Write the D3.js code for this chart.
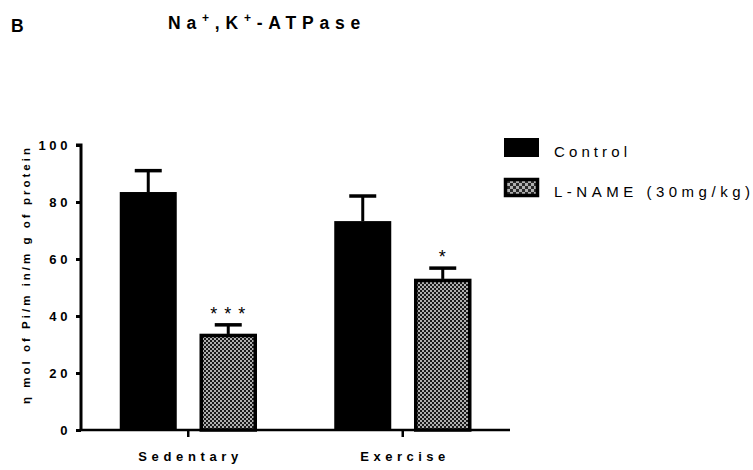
<!DOCTYPE html>
<html>
<head>
<meta charset="utf-8">
<script src="https://cdn.jsdelivr.net/npm/d3@7/dist/d3.min.js"></script>
<style>
  html, body { margin: 0; padding: 0; background: #fff; }
  svg { display: block; font-family: "Liberation Sans", Arial, sans-serif; }
</style>
</head>
<body>
<svg id="chart" width="753" height="470"></svg>
<script>
// ---- data ----
const categories = ["Sedentary", "Exercise"];
const series = ["Control", "L-NAME (30mg/kg)"];
const controlMeans = [83.5, 73.3];
const controlErr = [7.5, 8.8];
const lnameMeans = [33.7, 53.0];
const lnameErr = [3.2, 3.8];
const lnameSig = ["* * *", "*"];
const yTicks = [0, 20, 40, 60, 80, 100];

const svg = d3.select("#chart");
const FONT = "Liberation Sans, Arial, sans-serif";

// pattern
const defs = svg.append("defs");
const pat = defs.append("pattern").attr("id", "checker")
  .attr("width", 4).attr("height", 4).attr("patternUnits", "userSpaceOnUse");
pat.append("rect").attr("width", 4).attr("height", 4).attr("fill", "#1a1a1a");
pat.append("rect").attr("x", 0).attr("y", 0).attr("width", 2).attr("height", 2).attr("fill", "#b0b0b0");
pat.append("rect").attr("x", 2).attr("y", 2).attr("width", 2).attr("height", 2).attr("fill", "#b0b0b0");

const pat2 = defs.append("pattern").attr("id", "checker2")
  .attr("width", 6).attr("height", 6).attr("patternUnits", "userSpaceOnUse");
pat2.append("rect").attr("width", 6).attr("height", 6).attr("fill", "#2a2a2a");
pat2.append("rect").attr("x", 0).attr("y", 0).attr("width", 3).attr("height", 3).attr("fill", "#b0b0b0");
pat2.append("rect").attr("x", 3).attr("y", 3).attr("width", 3).attr("height", 3).attr("fill", "#b0b0b0");

const x0 = 81, x1 = 510, yTop = 145, yBot = 430;

const y = d3.scaleLinear().domain([0, 100]).range([yBot, yTop]);
const x = d3.scaleBand().domain(categories).range([x0, x1]).padding(0);
const bw = x.bandwidth();
const xs = d3.scaleBand().domain(series).range([bw / 2 - 80, bw / 2 + 80])
  .paddingInner(0.2875).paddingOuter(0.14375);

const data = [];
categories.forEach((c, i) => {
  data.push({ cat: c, s: series[0], v: controlMeans[i], e: controlErr[i], sig: "" });
  data.push({ cat: c, s: series[1], v: lnameMeans[i], e: lnameErr[i], sig: lnameSig[i] });
});

// error bars (behind bars)
const eb = svg.append("g");
data.forEach(d => {
  const cx = x(d.cat) + xs(d.s) + xs.bandwidth() / 2;
  eb.append("line").attr("x1", cx).attr("x2", cx)
    .attr("y1", y(d.v)).attr("y2", y(d.v + d.e))
    .attr("stroke", "#000").attr("stroke-width", 3);
  eb.append("line").attr("x1", cx - 13.5).attr("x2", cx + 13.5)
    .attr("y1", y(d.v + d.e)).attr("y2", y(d.v + d.e))
    .attr("stroke", "#000").attr("stroke-width", 3.5);
});

// bars
const bars = svg.append("g");
data.forEach(d => {
  const bx = x(d.cat) + xs(d.s);
  if (d.s === series[0]) {
    bars.append("rect").attr("x", bx).attr("y", y(d.v))
      .attr("width", xs.bandwidth()).attr("height", y(0) - y(d.v))
      .attr("fill", "#000");
  } else {
    bars.append("rect").attr("x", bx + 1.5).attr("y", y(d.v) + 1.5)
      .attr("width", xs.bandwidth() - 3).attr("height", y(0) - y(d.v) - 1.5)
      .attr("fill", "url(#checker)").attr("stroke", "#000").attr("stroke-width", 3.5);
    const cx = bx + xs.bandwidth() / 2;
    svg.append("text").attr("x", cx).attr("y", y(d.v + d.e) - 5)
      .attr("text-anchor", "middle").attr("font-size", 18)
      .attr("letter-spacing", 1).text(d.sig);
  }
});

// y axis
const yAxis = d3.axisLeft(y).tickValues(yTicks).tickSize(5).tickPadding(5).tickFormat(d3.format("d"));
const gy = svg.append("g").attr("transform", `translate(${x0},0)`).call(yAxis);
gy.select(".domain").attr("stroke", "#000").attr("stroke-width", 3).attr("d", `M-5,${yTop}H0V${yBot}`);
gy.selectAll(".tick line").attr("stroke", "#000").attr("stroke-width", 3);
gy.selectAll(".tick text").attr("font-size", 13).attr("font-weight", "bold")
  .attr("fill", "#000").attr("letter-spacing", 3.6).attr("font-family", FONT);

// x axis
const xAxis = d3.axisBottom(x).tickSize(7).tickPadding(14);
const gx = svg.append("g").attr("transform", `translate(0,${yBot})`).call(xAxis);
gx.select(".domain").attr("stroke", "#000").attr("stroke-width", 2.5).attr("d", `M${x0 - 1.5},0H${x1}`);
gx.selectAll(".tick line").attr("stroke", "#000").attr("stroke-width", 2.5);
gx.selectAll(".tick text").attr("font-size", 13).attr("font-weight", "bold")
  .attr("fill", "#000").attr("font-family", FONT)
  .attr("dy", 0).attr("y", 31)
  .attr("lengthAdjust", "spacing")
  .attr("textLength", d => d === "Sedentary" ? 100 : 85);

// y label
svg.append("text")
  .attr("transform", `translate(30,276) rotate(-90)`)
  .attr("text-anchor", "middle").attr("font-size", 11.5).attr("font-weight", "bold")
  .attr("lengthAdjust", "spacing").attr("textLength", 256)
  .text("η mol of Pi/m in/m g of protein");

// title
const title = svg.append("text").attr("x", 168).attr("y", 29)
  .attr("font-size", 17.5).attr("font-weight", "bold").attr("letter-spacing", 5.8);
title.append("tspan").text("Na");
title.append("tspan").attr("dy", -7).attr("font-size", 12).text("+");
title.append("tspan").attr("dy", 7).text(",K");
title.append("tspan").attr("dy", -7).attr("font-size", 12).text("+");
title.append("tspan").attr("dy", 7).text("-ATPase");

svg.append("text").attr("x", 11).attr("y", 32).attr("font-size", 17.5)
  .attr("font-weight", "bold").text("B");

// legend
const lg = svg.append("g");
series.forEach((s, i) => {
  const ly = 138 + i * 40;
  if (i === 0) {
    lg.append("rect").attr("x", 504).attr("y", ly).attr("width", 35).attr("height", 19).attr("fill", "#000");
  } else {
    lg.append("rect").attr("x", 505.5).attr("y", ly + 1.5).attr("width", 32).attr("height", 16)
      .attr("fill", "url(#checker2)").attr("stroke", "#000").attr("stroke-width", 3.5);
  }
  lg.append("text").attr("x", 554).attr("y", ly + 18.5).attr("font-size", 15)
    .attr("lengthAdjust", "spacing").attr("textLength", i === 0 ? 73 : 196).text(s);
});
</script>
</body>
</html>
